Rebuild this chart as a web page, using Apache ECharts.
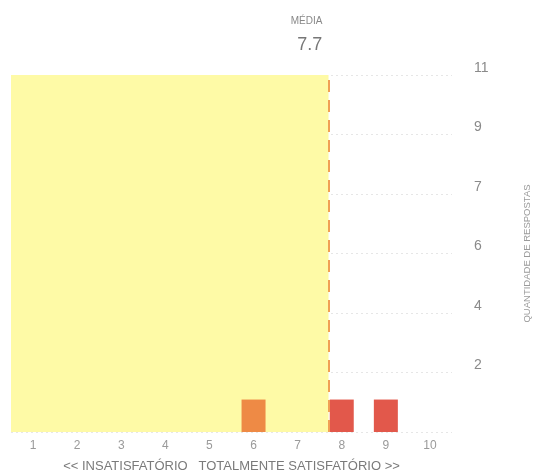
<!DOCTYPE html>
<html>
<head>
<meta charset="utf-8">
<script src="https://cdn.jsdelivr.net/npm/echarts@6/dist/echarts.min.js"></script>
<style>
  html, body { margin: 0; padding: 0; background: #fff; }
  #chart { width: 536px; height: 474px; }
</style>
</head>
<body>
<div id="chart"></div>
<script>
  // notas de 1 a 10 e quantidade de respostas
  var notas = ['1', '2', '3', '4', '5', '6', '7', '8', '9', '10'];
  var respostas = [0, 0, 0, 0, 0, 1, 0, 1, 1, 0];
  var corBarras = ['#ee8a45', '#ee8a45', '#ee8a45', '#ee8a45', '#ee8a45', '#ee8a45', '#e2584b', '#e2584b', '#e2584b', '#e2584b'];
  var media = 7.7;
  var maxResp = 11;

  var dados = [];
  for (var i = 0; i < notas.length; i++) {
    dados.push({ value: respostas[i], itemStyle: { color: corBarras[i] } });
  }

  var myEchart = echarts.init(document.getElementById('chart'));
  var option = {
    animation: false,
    grid: { left: 11, right: 84, top: 75, bottom: 42, outerBoundsMode: 'none', containLabel: false },
    xAxis: [{
      type: 'category',
      data: notas,
      axisLine: { show: false },
      axisTick: { show: false },
      axisLabel: { color: '#9a9a9a', fontSize: 12, margin: 8, fontFamily: 'Liberation Sans' },
      name: '<< INSATISFATÓRIO   TOTALMENTE SATISFATÓRIO >>',
      nameLocation: 'middle',
      nameGap: 28,
      nameTextStyle: { color: '#7a7a7a', fontSize: 13, fontFamily: 'Liberation Sans' }
    }, {
      // eixo auxiliar para a média (mesma escala das notas)
      type: 'value',
      min: 0.5,
      max: 10.5,
      show: false
    }],
    yAxis: {
      type: 'value',
      position: 'right',
      min: 0,
      max: maxResp,
      interval: maxResp / 6,
      axisLine: { show: false },
      axisTick: { show: false },
      axisLabel: {
        color: '#8a8a8a', fontSize: 14, margin: 22, verticalAlign: 'bottom',
        fontFamily: 'Liberation Sans',
        formatter: function (v) { return v === 0 ? '' : Math.round(v); }
      },
      splitLine: { lineStyle: { color: '#e6e6e6', type: [2, 3], width: 1 } },
      name: 'QUANTIDADE DE RESPOSTAS',
      nameLocation: 'middle',
      nameRotate: 90,
      nameGap: 70,
      nameTextStyle: { color: '#9a9a9a', fontSize: 9.5, fontFamily: 'Liberation Sans' }
    },
    series: [{
      name: 'Respostas',
      type: 'bar',
      xAxisIndex: 0,
      barWidth: 24,
      data: dados,
      z: 3
    }, {
      name: 'Média',
      type: 'line',
      xAxisIndex: 1,
      data: [],
      markArea: {
        silent: true,
        itemStyle: { color: '#fefaa6' },
        data: [[{ xAxis: 0.5 }, { xAxis: media }]]
      },
      markLine: {
        silent: true,
        symbol: ['none', 'none'],
        lineStyle: { color: '#f0a055', type: [12, 8], width: 2 },
        label: {
          position: 'end',
          distance: 18,
          offset: [-22, 0],
          formatter: '{a|MÉDIA}\n{b|' + media + '}',
          rich: {
            a: { fontSize: 10, color: '#888', align: 'right', lineHeight: 24, fontFamily: 'Liberation Sans' },
            b: { fontSize: 18, color: '#777', align: 'right', lineHeight: 24, fontFamily: 'Liberation Sans' }
          }
        },
        data: [{ xAxis: media }]
      }
    }]
  };
  myEchart.setOption(option);
</script>
</body>
</html>
